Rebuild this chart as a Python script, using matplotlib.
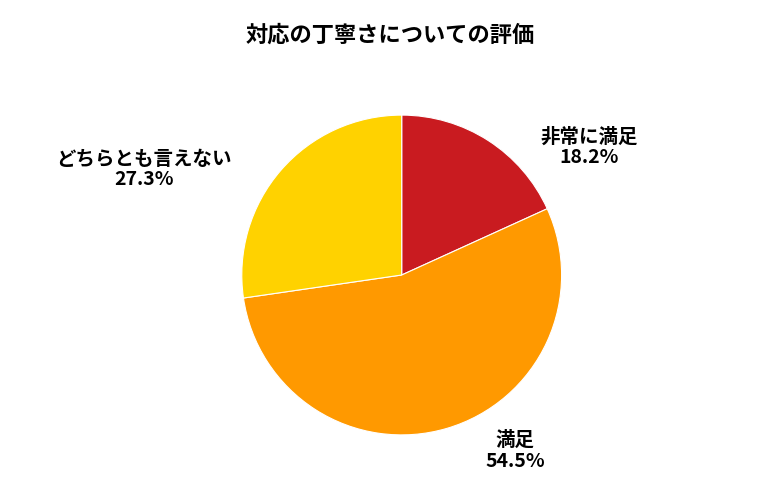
import matplotlib
matplotlib.use("Agg")
import matplotlib.pyplot as plt

plt.rcParams['font.family'] = ['Noto Sans CJK JP', 'DejaVu Sans']

categories = ['非常に満足', '満足', 'どちらとも言えない']
values = [18.2, 54.5, 27.3]
colors = ['#C91B20', '#FF9900', '#FFD200']
# label positions in pie units (radius = 1)
label_pos = [(1.17, 0.80), (0.71, -1.10), (-1.61, 0.66)]

fig = plt.figure(figsize=(7.8, 5), dpi=100)
ax = fig.add_axes([0.105, 0.13, 0.82, 0.64])
ax.pie(values, colors=colors, startangle=90, counterclock=False,
       wedgeprops=dict(edgecolor='white', linewidth=0.8))
for cat, val, (x, y) in zip(categories, values, label_pos):
    ax.text(x, y, f"{cat}\n{val}%", ha='center', va='center',
            fontsize=14, fontweight='bold', linespacing=1.1)
ax.set_xlim(-2.0, 2.0)
ax.set_ylim(-1.0, 1.0)
ax.set_aspect('equal')
fig.text(0.5, 0.93, '対応の丁寧さについての評価', ha='center', va='center',
         fontsize=16, fontweight='bold')
fig.savefig('out.png', dpi=100)
